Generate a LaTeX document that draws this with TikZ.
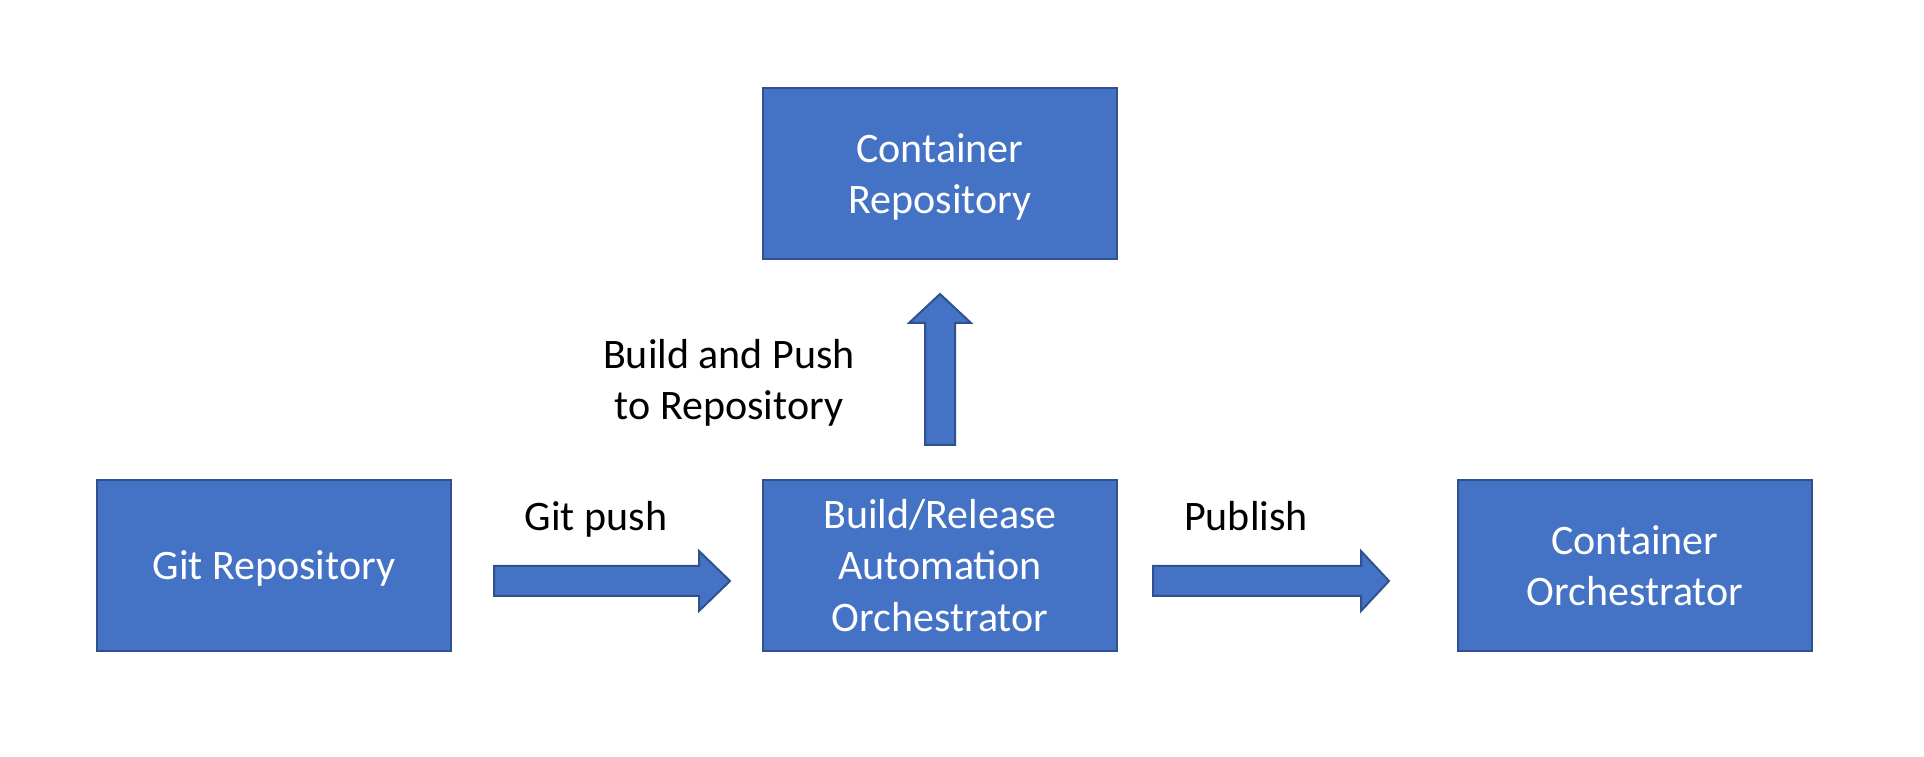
\documentclass[tikz,border=0pt]{standalone}
\usepackage{fontspec}
\setmainfont{Carlito}
\usetikzlibrary{calc}

\definecolor{boxfill}{HTML}{4472C4}
\definecolor{boxline}{HTML}{2F528F}
% one line of box text, fixed height and depth
\newcommand\lnbox[1]{\raisebox{-0.3pt}[0.94em][0.28em]{#1}}
\tikzset{
  stagebox/.style={draw=boxline,fill=boxfill,line width=1pt,text=white,align=center,
    minimum width=177pt,minimum height=85.5pt,inner sep=0pt,
    font=\fontsize{21pt}{25.75pt}\selectfont},
  flowlabel/.style={align=center,font=\fontsize{21pt}{25.75pt}\selectfont},
  blockarrow/.style={draw=boxline,fill=boxfill,line width=1pt,line join=miter}
}

\begin{document}
\begin{tikzpicture}[x=0.5pt,y=0.5pt]
\useasboundingbox (0,0) rectangle (1924,756);
% stages
\node[stagebox] (git) at (274,190.5) {\lnbox{Git Repository}};
\node[stagebox] (build) at (940,190.5) {\lnbox{Build/Release}\\\lnbox{Automation}\\\lnbox{Orchestrator}};
\node[stagebox] (orch) at (1635,190.5) {\lnbox{Container}\\\lnbox{Orchestrator}};
\node[stagebox] (crepo) at (940,582.5) {\lnbox{Container}\\\lnbox{Repository}};
% arrow ends
\coordinate (pushtail) at ($(git.east)+(42,-15.5)$);
\coordinate (pushtip) at ($(build.west)+(-32,-15.5)$);
\coordinate (pubtail) at ($(build.east)+(35,-15.5)$);
\coordinate (pubtip) at ($(orch.west)+(-68,-15.5)$);
\coordinate (uptail) at ($(build.north)+(0,34)$);
\coordinate (uptip) at ($(crepo.south)+(0,-34)$);
% block arrows
\draw[blockarrow] ($(pushtail)+(0,15)$) -- ($(pushtip)+(-31,15)$) -- ($(pushtip)+(-31,30)$)
  -- (pushtip) -- ($(pushtip)+(-31,-30)$) -- ($(pushtip)+(-31,-15)$) -- ($(pushtail)+(0,-15)$) -- cycle;
\draw[blockarrow] ($(pubtail)+(0,15)$) -- ($(pubtip)+(-28,15)$) -- ($(pubtip)+(-28,30)$)
  -- (pubtip) -- ($(pubtip)+(-28,-30)$) -- ($(pubtip)+(-28,-15)$) -- ($(pubtail)+(0,-15)$) -- cycle;
\draw[blockarrow] ($(uptail)+(-15,0)$) -- ($(uptip)+(-15,-29)$) -- ($(uptip)+(-31,-29)$)
  -- (uptip) -- ($(uptip)+(31,-29)$) -- ($(uptip)+(15,-29)$) -- ($(uptail)+(15,0)$) -- cycle;
% labels
\node[flowlabel,anchor=base] (pushlbl) at (596,225) {Git push};
\node[flowlabel,anchor=base] (publbl) at (1246,225) {Publish};
\node[flowlabel] (buildlbl) at (729,373) {Build and Push\\to Repository};
\end{tikzpicture}
\end{document}
